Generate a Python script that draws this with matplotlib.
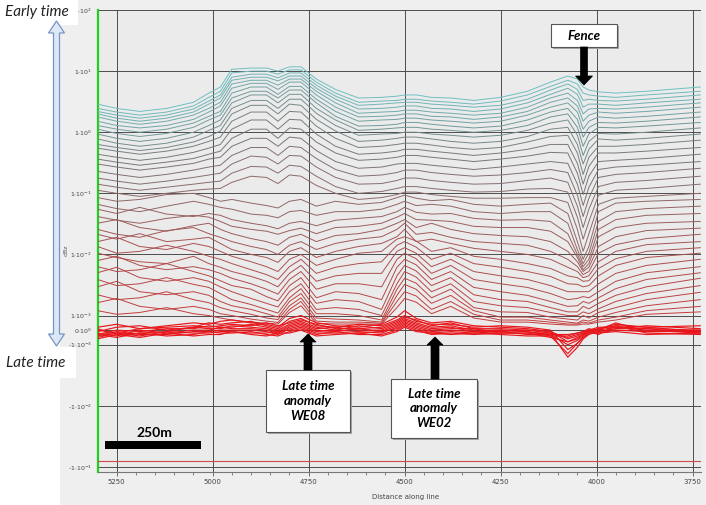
import numpy as np
import matplotlib
matplotlib.use("Agg")
import matplotlib.pyplot as plt
from matplotlib.colors import LinearSegmentedColormap
from matplotlib.patches import Rectangle, Polygon
from matplotlib.ticker import FixedLocator, MultipleLocator

# ---------------- data ----------------
stations_m = [5300, 5250, 5190, 5120, 5050, 5010, 4980, 4950, 4900, 4860,
              4830, 4800, 4770, 4730, 4680, 4620, 4560, 4520, 4500, 4470,
              4430, 4380, 4320, 4250, 4180, 4120, 4075, 4050, 4035, 4020,
              3995, 3950, 3870, 3730]

# log10(dBz) x 100, one row per time channel (early -> late)
ch_log10_x100 = [
    [46,39,34,39,49,64,74,103,105,105,100,107,107,87,70,56,57,59,61,61,57,56,52,57,67,82,92,87,74,69,66,64,67,74],
    [39,33,28,33,43,57,67,97,100,100,95,102,102,82,64,49,51,52,54,54,51,49,46,51,61,75,85,79,64,61,59,57,61,67],
    [34,28,23,28,38,51,61,90,95,95,89,97,97,77,59,44,46,48,49,49,46,44,41,44,54,69,79,70,52,54,52,51,54,61],
    [30,23,18,23,33,46,56,85,90,90,84,92,92,72,54,38,39,41,43,43,39,38,34,38,48,62,72,62,41,46,46,44,48,54],
    [25,18,13,18,28,39,49,79,85,85,77,87,87,67,48,31,33,34,36,36,33,31,28,31,41,56,64,52,30,38,39,38,41,48],
    [18,11,7,11,21,33,43,72,80,80,70,82,82,61,41,25,26,28,30,30,26,25,21,25,34,49,56,43,18,28,33,31,34,41],
    [11,5,0,5,15,26,34,64,74,74,62,75,75,54,34,18,20,21,23,23,20,18,15,18,28,41,48,33,5,18,25,23,26,33],
    [5,-2,-7,-2,8,20,28,56,67,67,56,69,69,48,26,10,11,13,16,16,13,10,7,10,20,33,39,21,-8,8,16,15,18,25],
    [-3,-10,-15,-10,0,11,20,48,61,61,48,62,62,39,20,3,5,7,8,8,5,3,0,3,11,25,30,8,-23,-3,8,7,10,16],
    [-11,-18,-23,-18,-8,3,11,39,52,52,39,54,54,31,11,-5,-3,-2,0,0,-3,-5,-8,-5,3,15,20,-5,-38,-15,-2,-3,0,7],
    [-20,-25,-30,-25,-16,-7,2,30,44,44,30,46,44,21,2,-15,-13,-10,-8,-8,-11,-15,-18,-15,-7,5,8,-20,-52,-28,-11,-13,-10,-3],
    [-26,-31,-36,-31,-23,-15,-8,18,33,33,18,34,33,10,-10,-25,-23,-20,-18,-18,-21,-25,-28,-25,-16,-7,-5,-34,-69,-41,-23,-23,-20,-13],
    [-36,-41,-46,-41,-33,-26,-20,5,20,20,5,21,20,-3,-23,-36,-34,-31,-28,-28,-31,-34,-38,-34,-28,-20,-20,-51,-85,-56,-34,-34,-31,-25],
    [-44,-49,-54,-49,-43,-36,-31,-10,5,5,-10,7,5,-16,-34,-46,-44,-41,-38,-38,-41,-44,-48,-44,-39,-33,-34,-67,-102,-72,-48,-46,-43,-36],
    [-52,-57,-62,-57,-51,-44,-41,-23,-10,-10,-23,-8,-10,-30,-48,-59,-57,-52,-51,-51,-54,-57,-61,-57,-52,-48,-51,-85,-120,-90,-61,-57,-54,-48],
    [-64,-69,-74,-69,-62,-57,-54,-38,-25,-25,-38,-23,-25,-43,-61,-72,-70,-66,-62,-62,-66,-69,-72,-70,-66,-61,-66,-103,-138,-108,-74,-69,-66,-59],
    [-75,-80,-85,-80,-74,-70,-67,-52,-39,-41,-52,-38,-39,-57,-74,-85,-84,-79,-75,-75,-79,-82,-85,-84,-79,-75,-82,-121,-156,-126,-89,-82,-79,-72],
    [-85,-90,-95,-90,-85,-82,-80,-67,-56,-57,-67,-54,-56,-72,-89,-100,-97,-92,-89,-89,-92,-95,-98,-97,-93,-92,-98,-139,-175,-146,-103,-95,-92,-85],
    [-95,-100,-105,-100,-95,-93,-92,-82,-72,-74,-84,-70,-72,-87,-100,-110,-107,-102,-98,-98,-102,-105,-108,-108,-107,-107,-115,-159,-195,-166,-118,-108,-105,-100],
    [-107,-113,-110,-102,-100,-107,-113,-110,-116,-120,-124,-113,-110,-121,-113,-118,-115,-107,-103,-108,-112,-110,-118,-121,-118,-116,-133,-179,-208,-187,-130,-116,-113,-110],
    [-118,-125,-130,-121,-113,-118,-123,-126,-134,-136,-140,-130,-128,-136,-130,-130,-126,-118,-113,-120,-118,-121,-130,-133,-130,-130,-149,-192,-215,-198,-146,-130,-125,-121],
    [-126,-133,-123,-134,-138,-133,-136,-143,-149,-153,-158,-149,-146,-153,-144,-141,-138,-130,-123,-131,-134,-133,-141,-144,-143,-146,-166,-200,-220,-208,-159,-143,-136,-133],
    [-138,-144,-149,-141,-136,-139,-146,-154,-159,-162,-167,-161,-157,-166,-156,-154,-149,-139,-133,-143,-144,-146,-154,-156,-156,-162,-179,-205,-225,-215,-171,-156,-149,-146],
    [-149,-143,-156,-162,-153,-149,-159,-166,-174,-179,-185,-172,-167,-179,-169,-166,-159,-149,-143,-156,-149,-159,-166,-169,-171,-179,-195,-212,-228,-221,-187,-171,-161,-157],
    [-159,-167,-172,-161,-156,-166,-172,-179,-187,-192,-200,-185,-179,-192,-182,-175,-171,-159,-149,-167,-164,-172,-179,-182,-185,-195,-208,-220,-233,-228,-198,-184,-174,-167],
    [-167,-175,-166,-179,-175,-172,-182,-192,-200,-205,-213,-195,-189,-205,-195,-187,-182,-171,-159,-179,-175,-182,-190,-195,-200,-208,-221,-228,-238,-235,-212,-195,-184,-179],
    [-179,-172,-187,-192,-182,-187,-195,-203,-212,-220,-228,-208,-200,-218,-208,-198,-195,-175,-171,-178,-195,-189,-203,-208,-215,-223,-235,-238,-244,-243,-223,-207,-195,-189],
    [-187,-198,-195,-185,-195,-203,-208,-215,-225,-233,-241,-220,-208,-231,-221,-215,-212,-185,-179,-188,-208,-198,-215,-221,-228,-236,-248,-249,-253,-251,-235,-218,-205,-198],
    [-198,-205,-212,-215,-203,-215,-221,-228,-236,-244,-253,-231,-218,-244,-235,-231,-231,-195,-189,-198,-220,-208,-228,-235,-241,-251,-261,-261,-261,-261,-248,-231,-218,-208],
    [-210,-203,-218,-225,-220,-225,-231,-239,-248,-257,-265,-241,-228,-257,-248,-248,-253,-208,-198,-207,-231,-218,-241,-248,-254,-264,-274,-272,-269,-271,-261,-244,-230,-220],
    [-220,-228,-225,-215,-228,-235,-243,-251,-257,-269,-276,-251,-238,-271,-261,-264,-274,-221,-208,-217,-241,-228,-254,-261,-267,-277,-285,-284,-277,-280,-271,-256,-241,-230],
    [-230,-221,-238,-244,-238,-244,-253,-261,-272,-280,-286,-261,-248,-280,-274,-277,-290,-235,-218,-227,-251,-238,-266,-274,-277,-287,-294,-294,-285,-289,-280,-267,-253,-239],
    [-241,-251,-248,-238,-249,-254,-264,-274,-282,-290,-296,-271,-256,-290,-287,-290,-300,-248,-228,-237,-261,-248,-277,-284,-287,-295,-300,-300,-294,-297,-289,-277,-264,-251],
    [-253,-244,-261,-266,-261,-267,-277,-284,-290,-297,-305,-277,-264,-297,-297,-300,-316,-257,-239,-247,-271,-257,-287,-294,-295,-305,-312,-316,-300,-308,-295,-287,-274,-262],
    [-266,-274,-271,-261,-274,-279,-287,-292,-298,-308,-314,-284,-271,-308,-312,-316,-326,-267,-249,-257,-280,-267,-292,-305,-305,-316,-326,-332,-316,-321,-305,-295,-284,-274],
    [-279,-272,-285,-290,-285,-290,-297,-300,-312,-321,-328,-290,-277,-321,-326,-326,-332,-277,-261,-268,-290,-277,-298,-316,-316,-326,-338,-338,-326,-332,-316,-305,-292,-285],
    [-292,-298,-295,-287,-297,-300,-308,-316,-326,-332,-338,-295,-284,-332,-338,-338,-338,-287,-272,-278,-297,-285,-308,-326,-326,-338,-346,-346,-338,-338,-326,-316,-298,-294],
]

# latest channels, around zero: dBz in units of 1e-4
late_ch_e4 = [
    [2,4,1,3,5,4,6,7,5,4,2,8,10,5,3,2,4,9,12,8,5,6,3,2,1,-1,-8,-6,-3,-1,1,3,2,3],
    [-1,2,3,0,2,5,4,5,6,3,1,6,8,3,2,4,3,7,10,6,4,4,2,3,2,0,-12,-9,-5,-2,0,2,1,0],
    [0,-2,1,2,3,2,3,4,3,5,3,5,7,4,1,1,2,6,9,7,3,5,1,1,0,-2,-16,-11,-6,-3,-1,1,3,1],
    [-3,0,-1,1,1,3,2,2,4,2,0,4,6,2,0,3,1,5,8,5,2,3,0,0,-1,-3,-10,-7,-4,-1,1,4,2,-1],
    [1,-3,-2,-1,2,1,1,3,2,1,-1,3,5,1,2,0,0,4,7,4,1,2,-1,-1,0,-1,-6,-4,-2,0,2,2,0,-2],
    [-2,-4,0,-2,0,0,2,1,1,0,-2,2,4,0,-1,1,-1,3,6,3,0,1,1,-2,-2,-2,-5,-3,-2,0,0,5,-1,0],
    [-4,-1,-3,-3,-1,-1,0,0,0,-1,-3,1,3,-1,0,-1,-2,2,5,2,-1,0,-1,0,-1,-4,-4,-2,-1,1,-1,1,1,-2],
    [-5,-2,-4,-1,-2,-2,-1,-1,-2,-2,-1,0,2,-2,-2,-2,-1,1,4,1,-2,-1,-2,-1,-3,-3,-3,-2,-1,0,-2,0,-1,-1],
    [-3,-5,-2,-4,-3,-1,-2,-2,-1,-3,-4,-1,1,-3,-1,-3,-3,0,3,0,-3,-2,-3,-2,-2,-5,-8,-5,-3,-1,-3,3,-2,-3],
    [-6,-3,-5,-2,-4,-3,-3,-1,-3,-4,-2,-2,0,-4,-3,-2,-4,-1,2,-1,-2,-3,-2,-3,-4,-4,-14,-9,-5,-2,-2,-1,-3,-2],
]

ref_level = -0.08
x_ticks = [5250, 5000, 4750, 4500, 4250, 4000, 3750]
y_ticks = [-1e-1, -1e-2, -1e-3, 0, 1e-3, 1e-2, 1e-1, 1e0, 1e1, 1e2]
y_tick_labels = ["-1·10$^{-1}$", "-1·10$^{-2}$", "-1·10$^{-3}$",
                 "0·10$^{0}$", "1·10$^{-3}$", "1·10$^{-2}$",
                 "1·10$^{-1}$", "1·10$^{0}$", "1·10$^{1}$",
                 "1·10$^{2}$"]

# ---------------- figure ----------------
W, H = 706, 505
fig = plt.figure(figsize=(W / 100, H / 100), dpi=100, facecolor="white")


def fx(px):
    return px / W


def fy(py):
    return 1 - py / H


# grey application panel
fig.add_artist(Rectangle((fx(60), 0), (W - 60) / W, 1, transform=fig.transFigure,
                         facecolor="#efefef", edgecolor="none", zorder=-10))

ax = fig.add_axes([fx(98), fy(472), (701 - 98) / W, (472 - 10) / H])
ax.set_facecolor("#ebebeb")
ax.set_yscale("symlog", linthresh=1e-3, linscale=0.215)
ax.set_xlim(5298.7, 3728)
ax.set_ylim(-0.121, 100)

cmap = LinearSegmentedColormap.from_list(
    "tem", [(0.0, "#6fbfc3"), (0.18, "#729e9f"), (0.34, "#787878"),
            (0.5, "#8c6a6a"), (0.72, "#a85252"), (1.0, "#c63b3b")])

x = np.array(stations_m, dtype=float)
n = len(ch_log10_x100)
for i, row in enumerate(ch_log10_x100):
    ax.plot(x, 10 ** (np.array(row, dtype=float) / 100.0), color=cmap(i / (n - 1)),
            lw=0.7, zorder=3)
for row in late_ch_e4:
    ax.plot(x, np.array(row, dtype=float) * 1e-4, color="#e8161b", lw=0.85, zorder=4)

ax.axhline(ref_level, color="#d24a4a", lw=0.8, zorder=3)

ax.yaxis.set_major_locator(FixedLocator(y_ticks))
ax.set_yticklabels(y_tick_labels)
ax.yaxis.set_minor_locator(FixedLocator([]))
ax.xaxis.set_major_locator(FixedLocator(x_ticks))
ax.xaxis.set_minor_locator(MultipleLocator(50))
ax.set_xticklabels([str(v) for v in x_ticks])

ax.grid(True, which="major", color="#4d4d4d", lw=0.7, zorder=1)
ax.set_axisbelow(True)
ax.tick_params(axis="y", length=0, pad=4, labelsize=4.5, labelcolor="#444444")
ax.tick_params(axis="x", which="major", length=3, width=0.6, pad=2, labelsize=5,
               labelcolor="#444444", color="#555555")
ax.tick_params(axis="x", which="minor", length=1.8, width=0.5, color="#555555")

for s in ["top", "right"]:
    ax.spines[s].set_visible(False)
ax.spines["left"].set_color("#1fd01f")
ax.spines["left"].set_linewidth(1.6)
ax.spines["bottom"].set_color("#777777")
ax.spines["bottom"].set_linewidth(0.8)

fig.text(fx(406), fy(497), "Distance along line", ha="center", va="center",
         fontsize=5, color="#444444")
fig.text(fx(66), fy(250), "dBz", ha="center", va="center", rotation=90,
         fontsize=4.5, color="#555555")

# ---------------- annotations ----------------
ANN_FONT = ["Lato", "DejaVu Sans"]


def white_box(x0, y0, x1, y1, edge=True, shadow=True):
    if shadow:
        fig.add_artist(Rectangle((fx(x0 + 2), fy(y1 + 2)), (x1 - x0) / W, (y1 - y0) / H,
                                 transform=fig.transFigure, facecolor="#a5a5a5",
                                 edgecolor="none", zorder=20))
    fig.add_artist(Rectangle((fx(x0), fy(y1)), (x1 - x0) / W, (y1 - y0) / H,
                             transform=fig.transFigure, facecolor="white",
                             edgecolor="#555555" if edge else "none", lw=0.8, zorder=21))


def vert_arrow(xc, y_tail, y_tip, shaft=7, head=17, head_len=9):
    d = 1 if y_tip > y_tail else -1
    yb = y_tip - d * head_len
    pts = [(xc - shaft / 2, y_tail), (xc + shaft / 2, y_tail), (xc + shaft / 2, yb),
           (xc + head / 2, yb), (xc, y_tip), (xc - head / 2, yb), (xc - shaft / 2, yb)]
    fig.add_artist(Polygon([(fx(a), fy(b)) for a, b in pts], closed=True,
                           transform=fig.transFigure, facecolor="black",
                           edgecolor="black", lw=0.5, zorder=22))


# early / late time labels and double arrow
white_box(0, 0, 78, 25, edge=False, shadow=False)
white_box(0, 347, 76, 378, edge=False, shadow=False)
fig.text(fx(37), fy(12), "Early time", ha="center", va="center", fontsize=11,
         style="italic", family=ANN_FONT, color="#222222", zorder=23)
fig.text(fx(36), fy(363), "Late time", ha="center", va="center", fontsize=11,
         style="italic", family=ANN_FONT, color="#222222", zorder=23)
xc, t0, t1, sh, hh, hl = 56.5, 21, 346, 3.0, 8.0, 12
dbl = [(xc, t0), (xc + hh, t0 + hl), (xc + sh, t0 + hl), (xc + sh, t1 - hl),
       (xc + hh, t1 - hl), (xc, t1), (xc - hh, t1 - hl), (xc - sh, t1 - hl),
       (xc - sh, t0 + hl), (xc - hh, t0 + hl)]
fig.add_artist(Polygon([(fx(a), fy(b)) for a, b in dbl], closed=True,
                       transform=fig.transFigure, facecolor="#dce8f7",
                       edgecolor="#7895c2", lw=0.9, zorder=22))

# Fence
white_box(551, 24, 617, 47)
fig.text(fx(584), fy(35.5), "Fence", ha="center", va="center", fontsize=9.5,
         style="italic", weight="bold", family=ANN_FONT, zorder=23)
vert_arrow(584, 47, 85)

# WE08
white_box(266, 370, 350, 432)
fig.text(fx(308), fy(401), "Late time\nanomaly\nWE08", ha="center", va="center",
         fontsize=9.5, style="italic", weight="bold", family=ANN_FONT,
         linespacing=1.25, zorder=23)
vert_arrow(308, 370, 334, shaft=8, head=16, head_len=8)

# WE02
white_box(391, 379, 477, 438)
fig.text(fx(434), fy(408.5), "Late time\nanomaly\nWE02", ha="center", va="center",
         fontsize=9.5, style="italic", weight="bold", family=ANN_FONT,
         linespacing=1.25, zorder=23)
vert_arrow(435, 379, 337, shaft=8, head=16, head_len=8)

# scale bar
fig.add_artist(Rectangle((fx(105), fy(449)), 96 / W, 8 / H, transform=fig.transFigure,
                         facecolor="black", edgecolor="none", zorder=22))
fig.text(fx(154), fy(433), "250m", ha="center", va="center", fontsize=10,
         weight="bold", family=ANN_FONT, zorder=23)

fig.savefig("out.png", dpi=100, facecolor="white")
